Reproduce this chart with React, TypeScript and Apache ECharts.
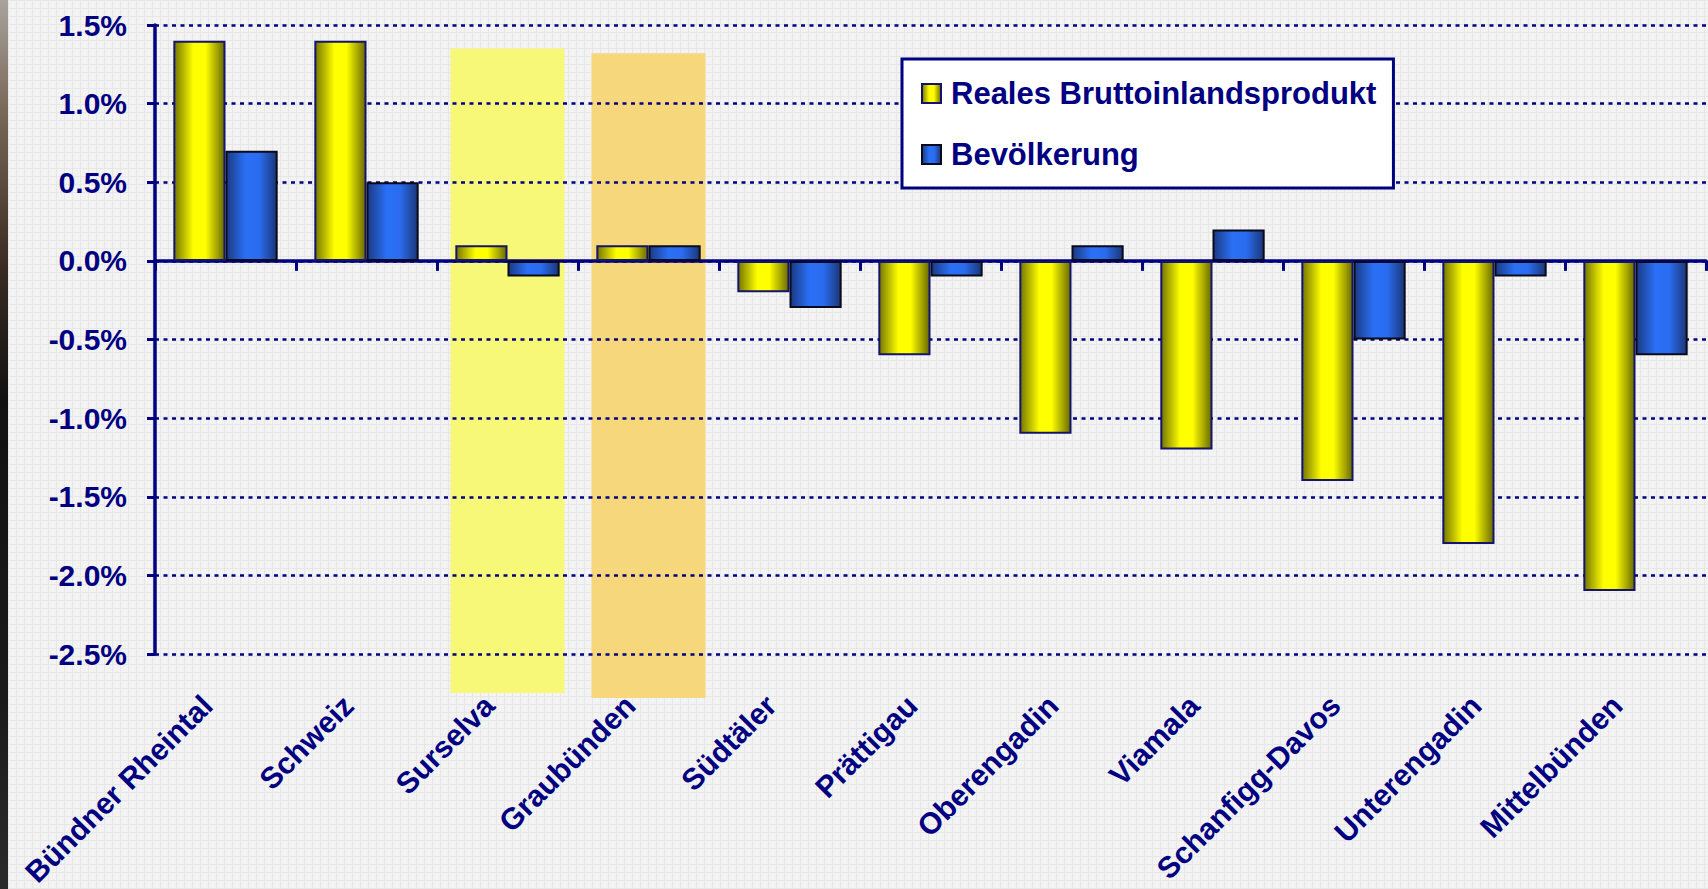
import React, { useEffect, useRef } from 'react';
import * as echarts from 'echarts';

const categories = [
  'Bündner Rheintal', 'Schweiz', 'Surselva', 'Graubünden', 'Südtäler', 'Prättigau',
  'Oberengadin', 'Viamala', 'Schanfigg-Davos', 'Unterengadin', 'Mittelbünden',
];
const bipValues = [1.4, 1.4, 0.1, 0.1, -0.2, -0.6, -1.1, -1.2, -1.4, -1.8, -2.1];
const popValues = [0.7, 0.5, -0.1, 0.1, -0.3, -0.1, 0.1, 0.2, -0.5, -0.1, -0.6];
const seriesNames = ['Reales Bruttoinlandsprodukt', 'Bevölkerung'];
const yMin = -2.5;
const yMax = 1.5;
const yInterval = 0.5;
const highlightCategories = ['Surselva', 'Graubünden'];
const highlightTops = [1.35, 1.32];
const highlightColors = ['#f7f778', '#f6d77b'];

const navy = '#000080';
const font = '"Liberation Sans", Arial, Helvetica, sans-serif';

export default function App() {
  const ref = useRef<HTMLDivElement>(null);

  useEffect(() => {
    if (!ref.current) return;
    const chart = echarts.init(ref.current, null, { renderer: 'svg' });

    const yellowFill = new echarts.graphic.LinearGradient(0, 0, 1, 0, [
      { offset: 0, color: '#767600' },
      { offset: 0.38, color: '#ffff00' },
      { offset: 0.62, color: '#ffff00' },
      { offset: 1, color: '#6a6a00' },
    ]);
    const blueFill = new echarts.graphic.LinearGradient(0, 0, 1, 0, [
      { offset: 0, color: '#1b3a84' },
      { offset: 0.38, color: '#2a70f6' },
      { offset: 0.65, color: '#2a6cf0' },
      { offset: 1, color: '#1b3778' },
    ]);

    chart.setOption({
      animation: false,
      backgroundColor: 'transparent',
      grid: {
        left: 155,
        top: 25,
        right: 2,
        bottom: 235,
        containLabel: false,
        outerBoundsMode: 'none',
      },
      legend: {
        orient: 'vertical',
        left: 902,
        top: 59,
        backgroundColor: '#ffffff',
        borderColor: navy,
        borderWidth: 3,
        borderRadius: 0,
        padding: [19, 17, 18, 19],
        itemWidth: 19,
        itemHeight: 19,
        itemGap: 30,
        icon: 'rect',
        textStyle: {
          color: navy,
          fontSize: 31,
          fontWeight: 'bold',
          fontFamily: font,
          lineHeight: 30,
          padding: [0, 0, 0, 5],
        },
        data: seriesNames,
      },
      xAxis: [
        {
          type: 'category',
          data: categories,
          position: 'bottom',
          axisLine: { show: true, onZero: true, lineStyle: { color: navy, width: 3.5 } },
          axisTick: { show: true, length: 10, lineStyle: { color: navy, width: 3 } },
          axisLabel: { show: false },
          splitLine: { show: false },
        },
        {
          type: 'category',
          data: categories,
          position: 'bottom',
          axisLine: { show: false, onZero: false },
          axisTick: { show: false },
          splitLine: { show: false },
          axisLabel: {
            show: true,
            interval: 0,
            rotate: 45,
            margin: 28,
            padding: [0, 26, 0, 0],
            color: navy,
            fontSize: 30,
            fontWeight: 'bold',
            fontFamily: font,
          },
        },
      ],
      yAxis: {
        type: 'value',
        min: yMin,
        max: yMax,
        interval: yInterval,
        axisLine: { show: true, lineStyle: { color: navy, width: 3.5 } },
        axisTick: { show: true, length: 8, lineStyle: { color: navy, width: 3 } },
        axisLabel: {
          margin: 28,
          color: navy,
          fontSize: 30,
          fontWeight: 'bold',
          fontFamily: font,
          formatter: (v: number) => v.toFixed(1) + '%',
        },
        splitLine: { show: true, lineStyle: { color: navy, width: 2.5, type: [4, 4.5] } },
      },
      series: [
        {
          name: seriesNames[0],
          type: 'bar',
          xAxisIndex: 0,
          data: bipValues,
          barGap: '0%',
          barCategoryGap: '26%',
          itemStyle: { color: yellowFill, borderColor: '#14146a', borderWidth: 2 },
        },
        {
          name: seriesNames[1],
          type: 'bar',
          xAxisIndex: 0,
          data: popValues,
          barGap: '0%',
          barCategoryGap: '26%',
          itemStyle: { color: blueFill, borderColor: '#0a0a1a', borderWidth: 2 },
        },
      ],
    });

    const bandBottomOffsets = [39, 44];
    const bands = highlightCategories.map((c, i) => {
      const cx = chart.convertToPixel({ xAxisIndex: 0 }, c) as number;
      const top = chart.convertToPixel({ yAxisIndex: 0 }, highlightTops[i]) as number;
      const bottom = (chart.convertToPixel({ yAxisIndex: 0 }, yMin) as number) + bandBottomOffsets[i];
      const w = 114;
      return {
        type: 'rect',
        z: -1,
        silent: true,
        shape: { x: cx - w / 2, y: top, width: w, height: bottom - top },
        style: { fill: highlightColors[i] },
      };
    });

    chart.setOption({
      graphic: [
        {
          type: 'rect',
          z: -1,
          silent: true,
          shape: { x: 0, y: 0, width: 8, height: 889 },
          style: {
            fill: new echarts.graphic.LinearGradient(0, 0, 0, 1, [
              { offset: 0, color: '#a9a39c' },
              { offset: 0.12, color: '#7a6a5a' },
              { offset: 0.3, color: '#3a2c22' },
              { offset: 0.45, color: '#121212' },
              { offset: 0.8, color: '#1c1c1c' },
              { offset: 1, color: '#2a2a2a' },
            ]),
          },
        },
        ...bands,
      ],
    });

    return () => chart.dispose();
  }, []);

  return (
    <div
      ref={ref}
      style={{
        position: 'absolute',
        left: 0,
        top: 0,
        width: 1708,
        height: 889,
        backgroundColor: '#f3f3f3',
        backgroundImage:
          'linear-gradient(#e7e7e7 1px, transparent 1px), linear-gradient(90deg, #e7e7e7 1px, transparent 1px)',
        backgroundSize: '8px 8px',
      }}
    />
  );
}
